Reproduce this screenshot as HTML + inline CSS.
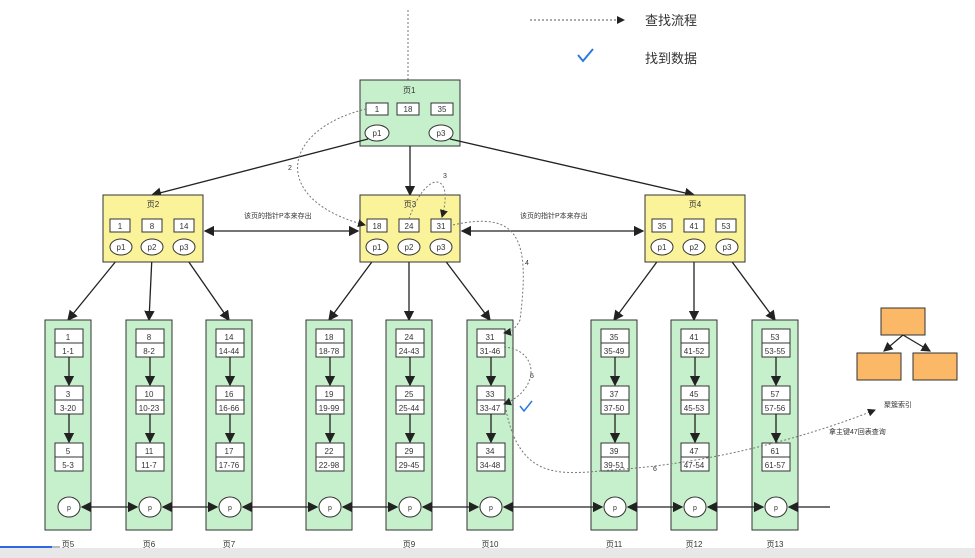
<!DOCTYPE html><html><head><meta charset="utf-8"><style>body{margin:0;background:#fff}svg{display:block}text{font-family:"Liberation Sans","Noto Sans CJK SC",sans-serif;fill:#333}</style></head><body>
<svg width="975" height="558" viewBox="0 0 975 558" xmlns="http://www.w3.org/2000/svg">
<defs><marker id="a" markerWidth="8" markerHeight="8" refX="7" refY="4" orient="auto"><path d="M0,0L8,4L0,8z" fill="#222"/></marker>
<marker id="s" markerWidth="8" markerHeight="8" refX="1" refY="4" orient="auto"><path d="M8,0L0,4L8,8z" fill="#222"/></marker></defs>
<!-- legend -->
<line x1="530" y1="20" x2="624" y2="20" stroke="#555" stroke-dasharray="2,2" marker-end="url(#a)"/>
<text x="645" y="25" font-size="13">查找流程</text>
<path d="M578,55 l5,6 l10,-12" stroke="#2a7ae2" stroke-width="2" fill="none"/>
<text x="645" y="63" font-size="13">找到数据</text>
<line x1="408" y1="10" x2="408" y2="102" stroke="#777" stroke-dasharray="2,2" marker-end="url(#a)"/>
<!-- root -->
<rect x="360" y="80" width="100" height="66" fill="#c6efcb" stroke="#333"/>
<text x="403" y="93" font-size="8">页1</text>
<g fill="#fff" stroke="#333"><rect x="366" y="103" width="22" height="12"/><rect x="397" y="103" width="22" height="12"/><rect x="431" y="103" width="22" height="12"/>
<ellipse cx="377" cy="133" rx="12" ry="8"/><ellipse cx="441" cy="133" rx="12" ry="8"/></g>
<g font-size="8" text-anchor="middle"><text x="377" y="112">1</text><text x="408" y="112">18</text><text x="442" y="112">35</text><text x="377" y="136">p1</text><text x="441" y="136">p3</text></g>
<g stroke="#222" stroke-width="1.3" fill="none" marker-end="url(#a)">
<line x1="368" y1="139" x2="152" y2="195"/><line x1="410" y1="146" x2="410" y2="195"/><line x1="450" y1="139" x2="694" y2="195"/>
<line x1="121" y1="255" x2="68" y2="320"/><line x1="152" y1="256" x2="149" y2="320"/><line x1="184" y1="255" x2="229" y2="320"/>
<line x1="377" y1="255" x2="329" y2="320"/><line x1="409" y1="256" x2="409" y2="320"/><line x1="441" y1="255" x2="490" y2="320"/>
<line x1="662" y1="255" x2="614" y2="320"/><line x1="694" y1="256" x2="694" y2="320"/><line x1="727" y1="255" x2="775" y2="320"/>
<line x1="205" y1="231" x2="358" y2="231" marker-start="url(#s)"/><line x1="462" y1="231" x2="643" y2="231" marker-start="url(#s)"/>
</g>
<text x="244" y="218" font-size="7">该页的指针P本来存出</text><text x="520" y="218" font-size="7">该页的指针P本来存出</text>
<!-- level2 -->
<g fill="#fbf39a" stroke="#333"><rect x="103" y="195" width="100" height="67"/><rect x="360" y="195" width="100" height="67"/><rect x="645" y="195" width="100" height="67"/></g>
<g font-size="8" text-anchor="middle"><text x="153" y="207">页2</text><text x="410" y="207">页3</text><text x="695" y="207">页4</text></g>
<g fill="#fff" stroke="#333">
<rect x="110" y="219" width="20" height="13"/><rect x="142" y="219" width="20" height="13"/><rect x="174" y="219" width="20" height="13"/>
<rect x="367" y="219" width="20" height="13"/><rect x="399" y="219" width="20" height="13"/><rect x="431" y="219" width="20" height="13"/>
<rect x="652" y="219" width="20" height="13"/><rect x="684" y="219" width="20" height="13"/><rect x="716" y="219" width="20" height="13"/>
<ellipse cx="121" cy="247" rx="11" ry="8"/><ellipse cx="152" cy="247" rx="11" ry="8"/><ellipse cx="184" cy="247" rx="11" ry="8"/>
<ellipse cx="377" cy="247" rx="11" ry="8"/><ellipse cx="409" cy="247" rx="11" ry="8"/><ellipse cx="441" cy="247" rx="11" ry="8"/>
<ellipse cx="662" cy="247" rx="11" ry="8"/><ellipse cx="694" cy="247" rx="11" ry="8"/><ellipse cx="727" cy="247" rx="11" ry="8"/></g>
<g font-size="8" text-anchor="middle">
<text x="120" y="229">1</text><text x="152" y="229">8</text><text x="184" y="229">14</text>
<text x="377" y="229">18</text><text x="409" y="229">24</text><text x="441" y="229">31</text>
<text x="662" y="229">35</text><text x="694" y="229">41</text><text x="726" y="229">53</text>
<text x="121" y="250">p1</text><text x="152" y="250">p2</text><text x="184" y="250">p3</text>
<text x="377" y="250">p1</text><text x="409" y="250">p2</text><text x="441" y="250">p3</text>
<text x="662" y="250">p1</text><text x="694" y="250">p2</text><text x="727" y="250">p3</text></g>
<!-- leaves -->
<g fill="#c6efcb" stroke="#333"><rect x="45" y="320" width="46" height="210"/><rect x="126" y="320" width="46" height="210"/><rect x="206" y="320" width="46" height="210"/><rect x="306" y="320" width="46" height="210"/><rect x="386" y="320" width="46" height="210"/><rect x="467" y="320" width="46" height="210"/><rect x="591" y="320" width="46" height="210"/><rect x="671" y="320" width="46" height="210"/><rect x="752" y="320" width="46" height="210"/></g>
<g fill="#fff" stroke="#333">
<path id="e" d="M55,329h28v28h-28z M55,343h28 M55,386h28v28h-28z M55,400h28 M55,443h28v28h-28z M55,457h28"/>
<use href="#e" x="81"/><use href="#e" x="161"/><use href="#e" x="261"/><use href="#e" x="341"/><use href="#e" x="422"/><use href="#e" x="546"/><use href="#e" x="626"/><use href="#e" x="707"/>
<g id="pp"><ellipse cx="69" cy="507" rx="11" ry="10"/></g>
<use href="#pp" x="81"/><use href="#pp" x="161"/><use href="#pp" x="261"/><use href="#pp" x="341"/><use href="#pp" x="422"/><use href="#pp" x="546"/><use href="#pp" x="626"/><use href="#pp" x="707"/></g>
<g stroke="#222" stroke-width="1.3" marker-end="url(#a)">
<g id="ar"><line x1="69" y1="357" x2="69" y2="385"/><line x1="69" y1="414" x2="69" y2="442"/></g>
<use href="#ar" x="81"/><use href="#ar" x="161"/><use href="#ar" x="261"/><use href="#ar" x="341"/><use href="#ar" x="422"/><use href="#ar" x="546"/><use href="#ar" x="626"/><use href="#ar" x="707"/>
<g marker-start="url(#s)"><line x1="82" y1="507" x2="137" y2="507"/><line x1="163" y1="507" x2="217" y2="507"/><line x1="243" y1="507" x2="317" y2="507"/><line x1="343" y1="507" x2="397" y2="507"/><line x1="423" y1="507" x2="478" y2="507"/><line x1="504" y1="507" x2="602" y2="507"/><line x1="628" y1="507" x2="682" y2="507"/><line x1="708" y1="507" x2="763" y2="507"/><line x1="789" y1="507" x2="830" y2="507" marker-end="none"/></g>
</g>
<g font-size="8" text-anchor="middle">
<text x="68" y="340">1</text><text x="68" y="354">1-1</text><text x="68" y="397">3</text><text x="68" y="411">3-20</text><text x="68" y="454">5</text><text x="68" y="468">5-3</text>
<text x="149" y="340">8</text><text x="149" y="354">8-2</text><text x="149" y="397">10</text><text x="149" y="411">10-23</text><text x="149" y="454">11</text><text x="149" y="468">11-7</text>
<text x="229" y="340">14</text><text x="229" y="354">14-44</text><text x="229" y="397">16</text><text x="229" y="411">16-66</text><text x="229" y="454">17</text><text x="229" y="468">17-76</text>
<text x="329" y="340">18</text><text x="329" y="354">18-78</text><text x="329" y="397">19</text><text x="329" y="411">19-99</text><text x="329" y="454">22</text><text x="329" y="468">22-98</text>
<text x="409" y="340">24</text><text x="409" y="354">24-43</text><text x="409" y="397">25</text><text x="409" y="411">25-44</text><text x="409" y="454">29</text><text x="409" y="468">29-45</text>
<text x="490" y="340">31</text><text x="490" y="354">31-46</text><text x="490" y="397">33</text><text x="490" y="411">33-47</text><text x="490" y="454">34</text><text x="490" y="468">34-48</text>
<text x="614" y="340">35</text><text x="614" y="354">35-49</text><text x="614" y="397">37</text><text x="614" y="411">37-50</text><text x="614" y="454">39</text><text x="614" y="468">39-51</text>
<text x="694" y="340">41</text><text x="694" y="354">41-52</text><text x="694" y="397">45</text><text x="694" y="411">45-53</text><text x="694" y="454">47</text><text x="694" y="468">47-54</text>
<text x="775" y="340">53</text><text x="775" y="354">53-55</text><text x="775" y="397">57</text><text x="775" y="411">57-56</text><text x="775" y="454">61</text><text x="775" y="468">61-57</text>
<g font-size="7"><text x="69" y="510">p</text><text x="150" y="510">p</text><text x="230" y="510">p</text><text x="330" y="510">p</text><text x="410" y="510">p</text><text x="491" y="510">p</text><text x="615" y="510">p</text><text x="695" y="510">p</text><text x="776" y="510">p</text></g>
<text x="68" y="547">页5</text><text x="149" y="547">页6</text><text x="229" y="547">页7</text><text x="409" y="547">页9</text><text x="490" y="547">页10</text><text x="614" y="547">页11</text><text x="694" y="547">页12</text><text x="775" y="547">页13</text></g>
<!-- dotted search paths -->
<g stroke="#777" stroke-dasharray="2,2" fill="none">
<path d="M366,109 C 280,130 270,200 365,225" marker-end="url(#a)"/>
<path d="M409,219 C 425,170 455,170 442,217" marker-end="url(#a)"/>
<path d="M453,225 C 520,210 530,240 520,320 C 515,330 510,332 504,333" marker-end="url(#a)"/>
<path d="M504,347 C 540,350 540,390 504,404" marker-end="url(#a)"/>
<path d="M506,410 C 520,480 560,475 610,470 C 700,465 800,440 875,410" marker-end="url(#a)"/>
</g>
<g font-size="7"><text x="288" y="170">2</text><text x="443" y="178">3</text><text x="525" y="265">4</text><text x="530" y="378">5</text><text x="653" y="471">6</text></g>
<path d="M520,406 l4,5 l8,-10" stroke="#2a7ae2" stroke-width="1.5" fill="none"/>
<!-- cluster -->
<g fill="#fbb968" stroke="#333"><rect x="881" y="308" width="44" height="27"/><rect x="857" y="353" width="44" height="27"/><rect x="913" y="353" width="44" height="27"/></g>
<g stroke="#222" stroke-width="1.2" marker-end="url(#a)"><line x1="903" y1="335" x2="884" y2="351"/><line x1="903" y1="335" x2="930" y2="351"/></g>
<text x="884" y="407" font-size="7">聚簇索引</text>
<text x="829" y="434" font-size="7">拿主键47回表查询</text>
<!-- player bar -->
<rect x="0" y="548" width="975" height="10" fill="#e8e8e8"/>
<rect x="0" y="546" width="60" height="2" fill="#bbb"/><rect x="0" y="546" width="52" height="2" fill="#2a6ae0"/>
</svg></body></html>
